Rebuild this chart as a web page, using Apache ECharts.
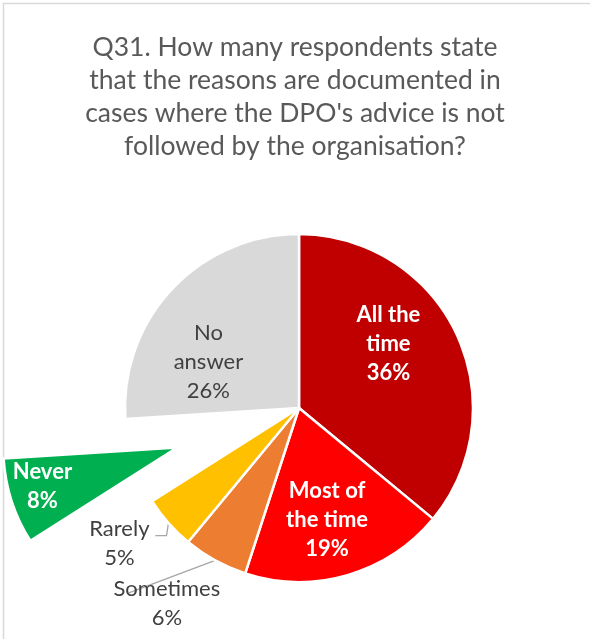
<!DOCTYPE html>
<html>
<head>
<meta charset="utf-8">
<script src="https://cdn.jsdelivr.net/npm/echarts@6/dist/echarts.min.js"></script>
<style>
  html, body { margin: 0; padding: 0; background: #ffffff; }
  #chart { width: 590px; height: 639px; }
</style>
</head>
<body>
<div id="chart"></div>
<script>
// Survey answers, clockwise from 12 o'clock
const categories = ['All the time', 'Most of the time', 'Sometimes', 'Rarely', 'Never', 'No answer'];
const shares = [36, 19, 6, 5, 8, 26];
const labelLines = ['All the\ntime', 'Most of\nthe time', 'Sometimes', 'Rarely', 'Never', 'No\nanswer'];
const colors = ['#C00000', '#FF0000', '#ED7D31', '#FFC000', '#00B050', '#D9D9D9'];
const titleText = "Q31. How many respondents state\nthat the reasons are documented in\ncases where the DPO's advice is not\nfollowed by the organisation?";

const FONT = 'Lato, "Noto Sans", sans-serif';

// per-slice label styling: bold white inside, dark outside for the small slices
const insideBold = { position: 'inside', color: '#FFFFFF', fontWeight: 'bold' };
const insidePlain = { position: 'inside', color: '#404040', fontWeight: 'normal' };
const outside = { position: 'outside', color: '#404040', fontWeight: 'normal' };
const labelStyles = [insideBold, insideBold, outside, outside, insideBold, insidePlain];
// nudges for label placement (relative to the default spot)
const labelShift = [[8, -26], [3, 25], [20, 39], [-3, 18], [-48, -8], [-25, 16]];

const data = categories.map((name, i) => ({
  name: name,
  value: shares[i],
  selected: name === 'Never',
  itemStyle: { color: colors[i] },
  select: { itemStyle: { color: colors[i] }, label: labelStyles[i] },
  label: Object.assign({}, labelStyles[i]),
  labelLine: {
    show: labelStyles[i].position === 'outside',
    length: 4,
    length2: 8,
    lineStyle: { color: '#A6A6A6', width: 1.3 }
  }
}));

const chart = echarts.init(document.getElementById('chart'), null, { renderer: 'canvas' });
chart.setOption({
  animation: false,
  backgroundColor: '#FFFFFF',
  graphic: [{
    type: 'rect',
    shape: { x: 3.5, y: 3.5, width: 700, height: 700 },
    style: { fill: 'none', stroke: '#D9D9D9', lineWidth: 1.5 },
    silent: true,
    z: -1
  }],
  title: {
    text: titleText,
    left: 'center',
    top: 31,
    padding: 0,
    textStyle: {
      fontFamily: FONT,
      fontSize: 26.5,
      fontWeight: 'normal',
      color: '#595959',
      lineHeight: 33,
      align: 'center'
    }
  },
  series: [{
    type: 'pie',
    center: [299, 408],
    radius: 174,
    startAngle: 90,
    clockwise: true,
    selectedMode: 'single',
    selectedOffset: 128,
    avoidLabelOverlap: false,
    emphasis: { disabled: true },
    itemStyle: { borderColor: '#FFFFFF', borderWidth: 2.5 },
    label: {
      fontFamily: FONT,
      fontSize: 22,
      lineHeight: 29,
      align: 'center',
      formatter: p => labelLines[p.dataIndex] + '\n' + p.value + '%'
    },
    labelLayout: p => {
      const i = p.dataIndex;
      const s = labelShift[i];
      if (labelStyles[i].position !== 'outside') {
        return { dx: s[0], dy: s[1] };
      }
      const r = p.labelRect;
      const cx = r.x + r.width / 2 + s[0];
      const cy = r.y + r.height / 2 + s[1];
      const start = p.labelLinePoints[0];
      let points;
      if (categories[i] === 'Rarely') {
        // short elbow ending at the lower right of the first text line
        const end = [cx + 36, cy - 8];
        points = [start, [start[0] - 2, end[1]], end];
      } else {
        // straight guide running under the first text line
        const end = [cx - 38, cy - 10];
        points = [start, [(start[0] + end[0]) / 2, (start[1] + end[1]) / 2], end];
      }
      return { x: cx, y: cy, align: 'center', verticalAlign: 'middle', labelLinePoints: points };
    },
    data: data
  }]
});
</script>
</body>
</html>
